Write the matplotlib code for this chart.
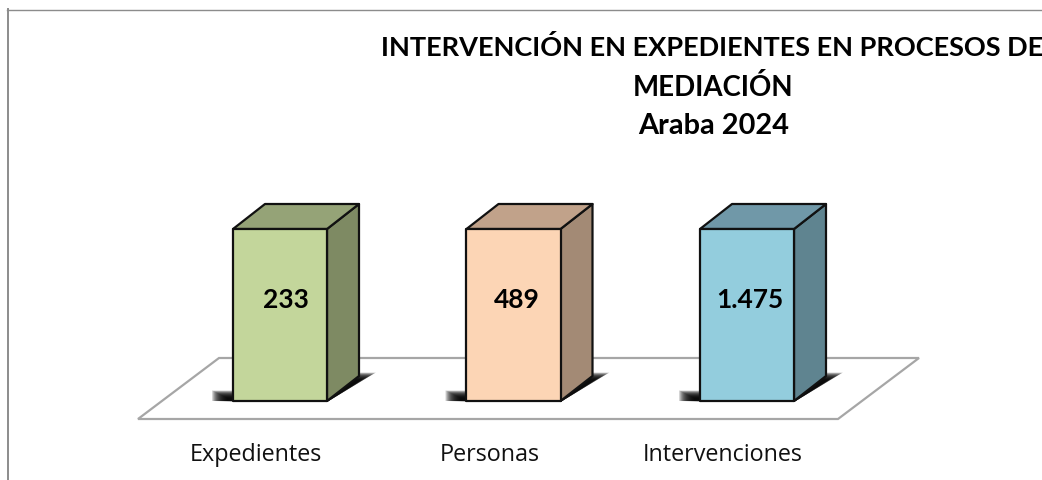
import matplotlib
matplotlib.use('Agg')
import matplotlib.pyplot as plt
from matplotlib.patches import Polygon
from matplotlib.lines import Line2D

categories = ['Expedientes', 'Personas', 'Intervenciones']
value_labels = ['233', '489', '1.475']
# all three columns are drawn the same height in the original chart
bar_heights = [1, 1, 1]
title_lines = ['INTERVENCIÓN EN EXPEDIENTES EN PROCESOS DE', 'MEDIACIÓN', 'Araba 2024']

front_colors = ['#c3d69b', '#fcd5b5', '#93cddd']
top_colors = ['#95a377', '#c1a28a', '#7098a8']
side_colors = ['#7e8a63', '#a38a75', '#5f8490']
label_shift = [6, 3, 3]  # value labels are not quite centred

W, H = 1042, 481
px_x = 233.5  # pixels per category
px_y = 172.0  # pixels per unit of height
x0, y0 = 280.0, 402.0  # pixel position of first category on the baseline
bar_w = 94 / px_x
dep_x = 32 / px_x
dep_y = 25 / px_y

fig = plt.figure(figsize=(W / 100, H / 100), dpi=100)
ax = fig.add_axes([0, 0, 1, 1])
ax.set_xlim(-x0 / px_x, (W - x0) / px_x)
ax.set_ylim((y0 - H) / px_y, y0 / px_y)
ax.axis('off')


def dx(p):
  return p / px_x


def dy(p):
  return p / px_y


# floor
floor = [(dx(-142), dy(-18)), (dx(558), dy(-18)), (dx(639), dy(43)), (dx(-61), dy(43))]
ax.add_patch(Polygon(floor, closed=True, facecolor='white', edgecolor='#a6a6a6', linewidth=1.6, zorder=1))

for i, h in enumerate(bar_heights):
  l = i - bar_w / 2
  r = i + bar_w / 2

  # soft shadow, stacked from wide to narrow
  n_steps = 16
  for k in range(n_steps):
    grow = (n_steps - 1 - k) * 1.0
    top_left = dy(3 + grow * 0.5)
    top_right = dy(21 + grow * 0.5)
    shadow = [(l - dx(6 + grow), dy(0)), (r, dy(-1)),
              (r + dx(34 + grow), top_right), (r, top_right),
              (r, top_left), (l - dx(6 + grow), top_left)]
    ax.add_patch(Polygon(shadow, closed=True, facecolor='black', edgecolor='none', alpha=0.17, zorder=2))

  edge = dict(edgecolor='#111111', linewidth=1.6, joinstyle='round', zorder=3)
  ax.add_patch(Polygon([(r, 0), (r + dep_x, dep_y), (r + dep_x, h + dep_y), (r, h)], closed=True,
                       facecolor=side_colors[i], **edge))
  ax.add_patch(Polygon([(l, h), (r, h), (r + dep_x, h + dep_y), (l + dep_x, h + dep_y)], closed=True,
                       facecolor=top_colors[i], **edge))
  ax.add_patch(Polygon([(l, 0), (r, 0), (r, h), (l, h)], closed=True, facecolor=front_colors[i], **edge))

  ax.text(i + dx(label_shift[i]), h * 0.595, value_labels[i], ha='center', va='center',
          fontsize=19, fontweight='bold', family='Lato', color='black', zorder=4)
  ax.text(i + dx(-24), dy(-53), categories[i], ha='center', va='center',
          fontsize=16.8, family='Open Sans', color='#111111', zorder=4)

# title
for line, x_px, y_px, size in zip(title_lines, [712, 713, 713.5], [47.5, 87, 126], [19.5, 19.9, 20.8]):
  fig.text(x_px / W, 1 - y_px / H, line, ha='center', va='center', fontsize=size, fontweight='bold',
           family='Lato', color='black')

# outer frame, only top and left are visible
fig.add_artist(Line2D([7 / W, 1], [1 - 10.5 / H, 1 - 10.5 / H], color='#8c8c8c', linewidth=1.0))
fig.add_artist(Line2D([8 / W, 8 / W], [1 - 10 / H, 0], color='#8c8c8c', linewidth=1.4))

fig.savefig('out.png', dpi=100)
